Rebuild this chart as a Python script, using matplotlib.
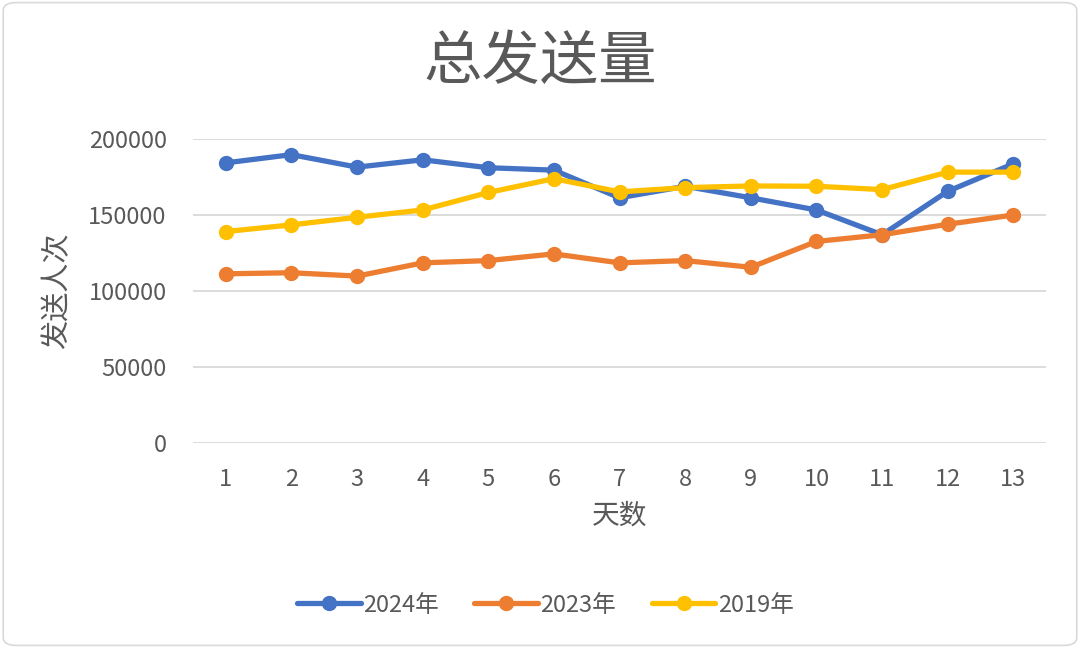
import matplotlib.pyplot as plt
from matplotlib.patches import FancyBboxPatch

plt.rcParams['font.family'] = ['Noto Sans CJK SC', 'DejaVu Sans']

days = list(range(1, 14))
y2024 = [184300, 189700, 181500, 186300, 181100, 179500, 161300, 168900,
         161300, 153300, 137000, 165600, 183700]
y2023 = [111300, 112000, 109800, 118500, 120000, 124400, 118500, 120000,
         115600, 132600, 137000, 143900, 150000]
y2019 = [139100, 143500, 148500, 153300, 164800, 173900, 165200, 168000,
         169100, 168900, 166700, 178200, 178200]
labels = ['2024年', '2023年', '2019年']
colors = ['#4472C4', '#ED7D31', '#FFC000']
gray = '#595959'

fig = plt.figure(figsize=(10.8, 6.48), dpi=100)
ax = fig.add_axes([0.1787, 0.3164, 0.79, 0.4691])

# light rounded frame around the whole chart
fig.patches.append(FancyBboxPatch((0.003, 0.004), 0.994, 0.992,
                                  boxstyle='round,pad=0,rounding_size=0.012',
                                  transform=fig.transFigure, fill=False,
                                  edgecolor='#D9D9D9', linewidth=1.2))

for vals, lab, col in zip([y2024, y2023, y2019], labels, colors):
    ax.plot(days, vals, color=col, linewidth=3.8, marker='o',
            markersize=10, label=lab, solid_capstyle='round')

ax.set_xlim(0.5, 13.5)
ax.set_ylim(0, 200000)
ax.set_xticks(days)
ax.set_yticks(range(0, 200001, 50000))
ax.grid(axis='y', color='#D9D9D9', linewidth=1.3)
ax.set_axisbelow(True)
for s in ax.spines.values():
    s.set_visible(False)
ax.tick_params(length=0, labelsize=17, colors=gray)
ax.tick_params(axis='x', pad=18)
ax.tick_params(axis='y', pad=19)

ax.set_xlabel('天数', fontsize=20, color=gray, va='center')
ax.xaxis.set_label_coords(0.5, -0.24)
ax.set_ylabel('发送人次', fontsize=21, color=gray, va='center')
ax.yaxis.set_label_coords(-0.159, 0.5)
fig.text(0.5, 0.904, '总发送量', fontsize=42, color=gray,
         ha='center', va='center')

fig.legend(loc='center', bbox_to_anchor=(0.505, 0.066), ncol=3,
           frameon=False, fontsize=17, handlelength=2.7, columnspacing=1.5,
           handletextpad=0.1, labelcolor=gray)

fig.savefig('out.png', dpi=100)
